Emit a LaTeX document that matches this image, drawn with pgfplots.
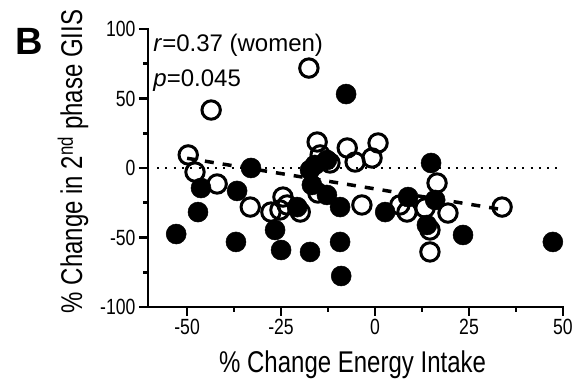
\documentclass[border=0pt]{standalone}
\usepackage{fontspec}
\setmainfont{Liberation Sans}
\newfontfamily\narrow[FakeStretch=0.80]{Liberation Sans}
\usepackage{pgfplots}
\pgfplotsset{compat=1.18}
\begin{document}
\begin{tikzpicture}
\useasboundingbox (0,0) rectangle (587pt,385pt);
\node[anchor=base west, inner sep=0, font=\bfseries\fontsize{38}{38}\selectfont] at (15pt,330pt) {B};
\begin{axis}[
  at={(148pt,78pt)}, anchor=south west,
  scale only axis, width=415pt, height=278pt,
  xmin=-60.4, xmax=50, ymin=-100, ymax=100,
  axis lines=left,
  axis line style={-, line width=2.8pt, line cap=rect},
  clip=false,
  xtick={-50,-25,0,25,50},
  minor xtick={-37.5,-12.5,12.5,37.5},
  ytick={-100,-50,0,50,100},
  minor ytick={-75,-25,25,75},
  tick align=outside,
  major tick length=9pt, minor tick length=5pt,
  every tick/.style={black, line width=2.8pt},
  /pgf/number format/assume math mode=true,
  tick label style={font=\narrow\fontsize{22}{22}\selectfont},
  xlabel={\% Change Energy Intake},
  ylabel={\% Change in 2\textsuperscript{nd} phase GIIS},
  xlabel style={font=\narrow\fontsize{30}{30}\selectfont, at={(axis description cs:0.493,-0.2374)}, anchor=base},
  ylabel style={font=\narrow\fontsize{30}{30}\selectfont, at={(axis description cs:-0.159,0.523)}, anchor=base, rotate=0},
]
% zero line
\addplot[black, line width=2.5pt, dash pattern=on 2pt off 6.3pt, forget plot] coordinates {(-58,0) (50,0)};
% men (filled)
\addplot[only marks, mark=*, mark size=10pt, mark options={fill=black, draw=black, line width=0.5pt}] coordinates {
(-7.7,53.2) (-33.0,0) (-46.3,-14.4) (-36.7,-16.5) (-47.1,-31.7) (-52.9,-47.5)
(-37.0,-53.2) (-26.6,-44.6) (-25.0,-59.0) (-16.0,2.2) (-12.8,5.8) (-16.8,-12.2)
(-12.8,-19.4) (-9.3,-28.1) (-20.7,-28.1) (2.7,-31.7) (8.8,-20.9) (16.0,-23.0)
(13.8,-41.0) (23.4,-48.2) (47.3,-53.2) (-17.3,-60.4) (-9.3,-53.2) (-9.0,-77.7)
(14.9,3.6) (-17.3,-1.4)
};
% women (open)
\addplot[only marks, mark=o, mark size=9.2pt, mark options={draw=black, line width=3pt}] coordinates {
(-17.6,71.9) (-43.6,41.7) (-49.7,9.4) (-47.9,-2.9) (-42.0,-11.5) (-33.2,-28.1)
(-27.7,-31.7) (-25.3,-30.2) (-23.4,-26.6) (-24.5,-20.9) (-19.9,-31.7) (-15.4,18.7)
(-7.4,14.4) (0.8,18.0) (-5.3,4.3) (-0.8,7.2) (-12.0,3.6) (-14.6,9.4)
(-15.2,-18) (-3.5,-26.6) (6.6,-26.6) (8.5,-31.7) (13.3,-28.8) (16.5,-10.8)
(19.4,-32.4) (33.8,-28.1) (14.6,-44.6) (14.6,-60.4)
};
% regression line
\addplot[black, line width=3.5pt, dash pattern=on 9pt off 9pt] coordinates {(-50,7) (34,-30)};
\node[anchor=base west, inner sep=0, font=\fontsize{24}{24}\selectfont] at (axis cs:-59.0,83.5) {\textit{r}=0.37 (women)};
\node[anchor=base west, inner sep=0, font=\fontsize{24}{24}\selectfont] at (axis cs:-59.0,58.3) {\textit{p}=0.045};
\end{axis}
\end{tikzpicture}
\end{document}
